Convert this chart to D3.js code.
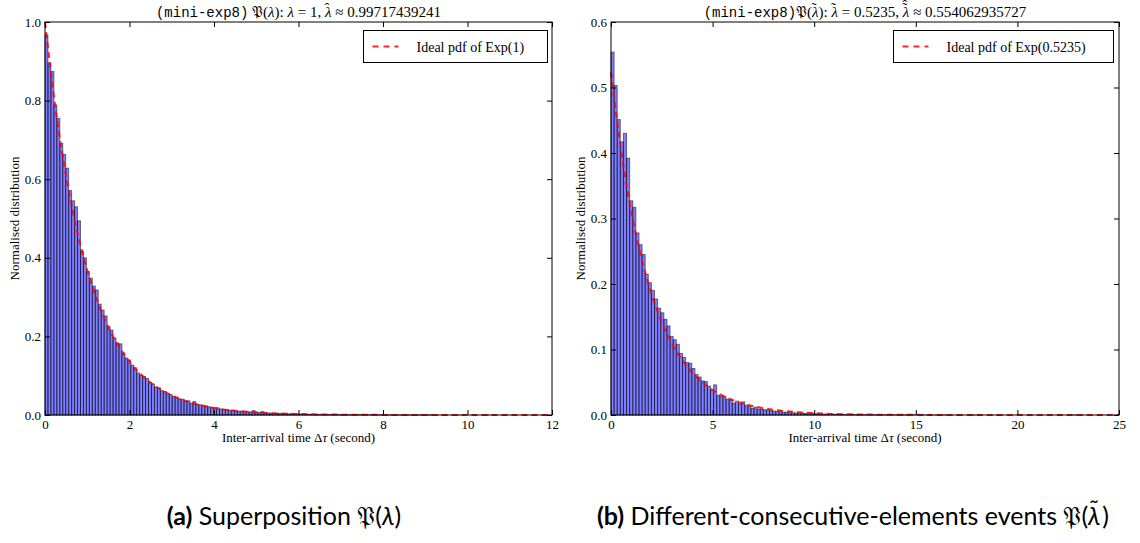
<!DOCTYPE html>
<html>
<head>
<meta charset="utf-8">
<script src="https://cdn.jsdelivr.net/npm/d3@7"></script>
<style>
body { margin: 0; background: #fff; }
</style>
</head>
<body>
<div id="chart"></div>
<script>
// histogram (a): 150 bins of width 0.07
var leftBinWidth = 0.07;
var leftValues = [0.967,0.895,0.874,0.789,0.755,0.691,0.663,0.628,0.571,0.545,0.530,0.494,0.417,0.400,0.365,0.348,0.328,0.318,0.282,0.267,0.252,0.225,0.216,0.196,0.183,0.181,0.158,0.145,0.140,0.127,0.120,0.107,0.101,0.098,0.093,
0.083,0.079,0.071,0.069,0.062,0.060,0.054,0.052,0.047,0.045,0.041,0.040,0.035,0.036,0.030,0.034,0.027,0.026,0.023,0.022,0.021,0.019,0.018,0.018,0.015,
0.014,0.014,0.012,0.012,0.011,0.0098,0.0095,0.0086,0.0084,0.0075,0.011,0.0068,0.0062,0.0085,0.0055,0.0052,0.0046,0.0044,0.0043,0.0037,0.0036,0.0034,0.0030,0.0029,0.0027,0.0026,0.0023,0.0022,0.0020,0.0019,
0.0018,0.0016,0.0015,0.0014,0.0013,0.0012,0.0012,0.0010,0.0010,0.0009,0.0009,0.0008,0.0008,0.0007,0.0006,0.0006,0.0006,0.0005,0.0005,0.0004,0.0004,0.0004,0.0003,0.0003,0.0003,0.0003,0.0002,0.0002,0.0002,0.0002,
0.0002,0.0001,0.0002,0.0001,0.0001,0.0001,0.0001,0.0001,0,0.0001,0.0001,0,0.0001,0,0,0.0001,0,0,0,0.0001,0,0,0,0,0,0,0,0,0,0.0001];

// histogram (b): 150 bins of width 0.153
var rightBinWidth = 0.153;
var rightValues = [0.554,0.503,0.451,0.417,0.430,0.392,0.327,0.317,0.278,0.260,0.245,0.215,0.202,0.190,0.177,0.163,0.156,0.146,0.136,0.120,0.115,
0.108,0.094,0.088,0.080,0.079,0.071,0.062,0.058,0.052,0.051,0.044,0.038,0.046,0.030,0.029,0.028,0.024,0.023,0.018,0.021,0.017,0.020,0.015,0.013,0.010,0.012,0.009,0.009,0.008,
0.0075,0.0070,0.0060,0.0055,0.0060,0.0045,0.0040,0.0042,0.0035,0.0030,0.0032,0.0028,0.0025,0.0022,0.0024,0.0019,0.0017,0.0018,0.0014,0.0013,0.0012,0.0011,0.0010,0.0011,0.0008,0.0009,0.0007,0.0007,0.0006,0.0005,
0.0006,0.0005,0.0004,0.0004,0.0003,0.0004,0.0003,0.0003,0.0002,0.0003,0.0002,0.0002,0.0001,0.0002,0.0001,0.0001,0.0002,0.0001,0,0.0001,0.0001,0,0.0001,0,0.0001,0,0,0.0001,0,0,
0,0.0001,0,0,0,0,0.0001,0,0,0,0,0,0,0,0.0001,0,0,0,0,0,0,0,0,0,0,0,0,0,0,0,0,0,0,0,0,0,0,0,0,0.0001];

// ideal pdf curves, sampled points
var leftPdfX = [0,0.25,0.5,0.75,1,1.25,1.5,1.75,2,2.5,3,3.5,4,5,6,7,8,10,12];
var leftPdfY = [1.0,0.779,0.607,0.472,0.368,0.287,0.223,0.174,0.135,0.082,0.050,0.030,0.018,0.0067,0.0025,0.0009,0.0003,0.00005,0.00001];
var rightPdfX = [0,0.5,1,1.5,2,2.5,3,4,5,6,7,8,10,12,15,20,25];
var rightPdfY = [0.5235,0.403,0.310,0.239,0.184,0.1414,0.1089,0.0645,0.0382,0.0227,0.0134,0.0080,0.0028,0.00098,0.0002,0.000015,0.000001];

var leftXTicks = [0,2,4,6,8,10,12];
var leftYTicks = [0,0.2,0.4,0.6,0.8,1.0];
var rightXTicks = [0,5,10,15,20,25];
var rightYTicks = [0,0.1,0.2,0.3,0.4,0.5,0.6];

var serif = "'Liberation Serif', 'DejaVu Serif', serif";
var mono = "'Liberation Mono', 'DejaVu Sans Mono', monospace";
var sans = "Lato, 'Open Sans', sans-serif";

var svg = d3.select("#chart")
            .append("svg")
            .attr("width", 1140)
            .attr("height", 543);

svg.append("rect").attr("width", 1140).attr("height", 543).attr("fill", "#fff");

drawPanel({
    left: 45, right: 552, top: 22, bottom: 415,
    xMax: 12, yMax: 1.0,
    xTicks: leftXTicks, yTicks: leftYTicks,
    values: leftValues, binWidth: leftBinWidth,
    pdfX: leftPdfX, pdfY: leftPdfY,
    title: [["(mini-exp8)", "mono"], " 𝔓(", ["λ", "i"], "): ", ["λ", "i"], " = 1, ", ["λ", "acc", ["ˆ"]], " ≈ 0.99717439241"],
    legend: "Ideal pdf of Exp(1)",
    legendBox: [363.5, 30.5, 184, 32],
    caption: [["(a)", "b"], " Superposition 𝔓(", ["λ", "i"], ")"],
    captionX: 284
});

drawPanel({
    left: 611, right: 1119, top: 22, bottom: 415,
    xMax: 25, yMax: 0.6,
    xTicks: rightXTicks, yTicks: rightYTicks,
    values: rightValues, binWidth: rightBinWidth,
    pdfX: rightPdfX, pdfY: rightPdfY,
    title: [["(mini-exp8)", "mono"], "𝔓(", ["λ", "acc", ["˜"]], "): ", ["λ", "acc", ["˜"]], " = 0.5235, ", ["λ", "acc", ["˜", "ˆ"]], " ≈ 0.554062935727"],
    legend: "Ideal pdf of Exp(0.5235)",
    legendBox: [893.5, 30.5, 220, 32],
    caption: [["(b)", "b"], " Different-consecutive-elements events 𝔓(", ["λ", "acc", ["˜"]], ")"],
    captionX: 853
});

function addPieces(text, pieces, size) {
    var lift = 0, back = 0;
    pieces.forEach(function (p) {
        if (typeof p === "string") p = [p, ""];
        var t = text.append("tspan").text(p[0]);
        if (lift) { t.attr("dy", lift).attr("dx", back); lift = 0; back = 0; }
        if (p[1] === "mono") t.style("font-family", mono).style("font-size", "14px");
        if (p[1] === "i" || p[1] === "acc") t.style("font-style", "italic");
        if (p[1] === "b") t.style("font-weight", "bold");
        if (p[1] === "acc") {
            // accents stacked over the letter
            var w = size * 0.55;
            p[2].forEach(function (a, k) {
                var up = k === 0 ? size * 0.27 : size * 0.17;
                text.append("tspan").text(a)
                    .attr("dx", k === 0 ? -w * 0.85 : -size * 0.33)
                    .attr("dy", -up);
                lift += up;
            });
            back = w * 0.85 - size * 0.33;
        }
    });
}

function drawPanel(p) {
    var x = d3.scaleLinear().domain([0, p.xMax]).range([p.left, p.right]);
    var y = d3.scaleLinear().domain([0, p.yMax]).range([p.bottom, p.top]);

    var g = svg.append("g");

    // bars
    g.selectAll("rect.bar")
        .data(p.values)
        .enter()
        .append("rect")
        .attr("class", "bar")
        .attr("x", function (d, i) { return x(i * p.binWidth); })
        .attr("width", x(p.binWidth) - x(0))
        .attr("y", function (d) { return y(d); })
        .attr("height", function (d) { return p.bottom - y(d); })
        .attr("fill", "blue")
        .attr("fill-opacity", 0.5)
        .attr("stroke", "black")
        .attr("stroke-opacity", 0.5)
        .attr("stroke-width", 1);

    // ideal pdf
    var pts = p.pdfX.map(function (v, i) { return [v, p.pdfY[i]]; });
    var line = d3.line()
                 .x(function (d) { return x(d[0]); })
                 .y(function (d) { return y(d[1]); })
                 .curve(d3.curveMonotoneX);
    g.append("path")
        .datum(pts)
        .attr("d", line)
        .attr("fill", "none")
        .attr("stroke", "red")
        .attr("stroke-opacity", 0.85)
        .attr("stroke-width", 2)
        .attr("stroke-dasharray", "6,4");

    // axes, ticks pointing inward like matplotlib
    var axes = [
        [d3.axisBottom(x).tickValues(p.xTicks).tickFormat(d3.format("d")), "translate(0," + p.bottom + ")"],
        [d3.axisTop(x).tickValues(p.xTicks).tickFormat(""), "translate(0," + p.top + ")"],
        [d3.axisLeft(y).tickValues(p.yTicks).tickFormat(d3.format(".1f")), "translate(" + p.left + ",0)"],
        [d3.axisRight(y).tickValues(p.yTicks).tickFormat(""), "translate(" + p.right + ",0)"]
    ];
    axes.forEach(function (a, k) {
        var ax = g.append("g")
            .attr("transform", a[1])
            .call(a[0].tickSizeInner(-5).tickSizeOuter(0).tickPadding(k === 2 ? 4 : 5));
        ax.select(".domain").remove();
        ax.selectAll("text").style("font-family", serif).style("font-size", "13px").attr("fill", "#000");
    });

    // frame
    g.append("rect")
        .attr("x", p.left).attr("y", p.top)
        .attr("width", p.right - p.left).attr("height", p.bottom - p.top)
        .attr("fill", "none").attr("stroke", "#000").attr("stroke-width", 1);

    // title
    var title = g.append("text")
        .attr("x", (p.left + p.right) / 2).attr("y", 17)
        .attr("text-anchor", "middle")
        .style("font-family", serif).style("font-size", "15px");
    addPieces(title, p.title, 15);

    // axis labels
    var xl = g.append("text")
        .attr("x", (p.left + p.right) / 2).attr("y", 442)
        .attr("text-anchor", "middle")
        .style("font-family", serif).style("font-size", "13px");
    addPieces(xl, ["Inter-arrival time Δ", ["τ", "i"], " (second)"], 13);

    g.append("text")
        .attr("transform", "translate(" + (p.left - 26) + "," + ((p.top + p.bottom) / 2) + ") rotate(-90)")
        .attr("text-anchor", "middle")
        .style("font-family", serif).style("font-size", "13px")
        .text("Normalised distribution");

    // legend
    var b = p.legendBox;
    g.append("rect")
        .attr("x", b[0]).attr("y", b[1]).attr("width", b[2]).attr("height", b[3])
        .attr("fill", "#fff").attr("stroke", "#000").attr("stroke-width", 1);
    g.append("line")
        .attr("x1", b[0] + 9).attr("x2", b[0] + 35)
        .attr("y1", b[1] + 16).attr("y2", b[1] + 16)
        .attr("stroke", "red").attr("stroke-opacity", 0.85)
        .attr("stroke-width", 2).attr("stroke-dasharray", "6,5");
    g.append("text")
        .attr("x", b[0] + 53).attr("y", b[1] + 21)
        .style("font-family", serif).style("font-size", "14px")
        .text(p.legend);

    // caption below subfigure
    var cap = g.append("text")
        .attr("x", p.captionX).attr("y", 525)
        .attr("text-anchor", "middle")
        .style("font-family", sans).style("font-size", "25px");
    addPieces(cap, p.caption, 25);
}
</script>
</body>
</html>
